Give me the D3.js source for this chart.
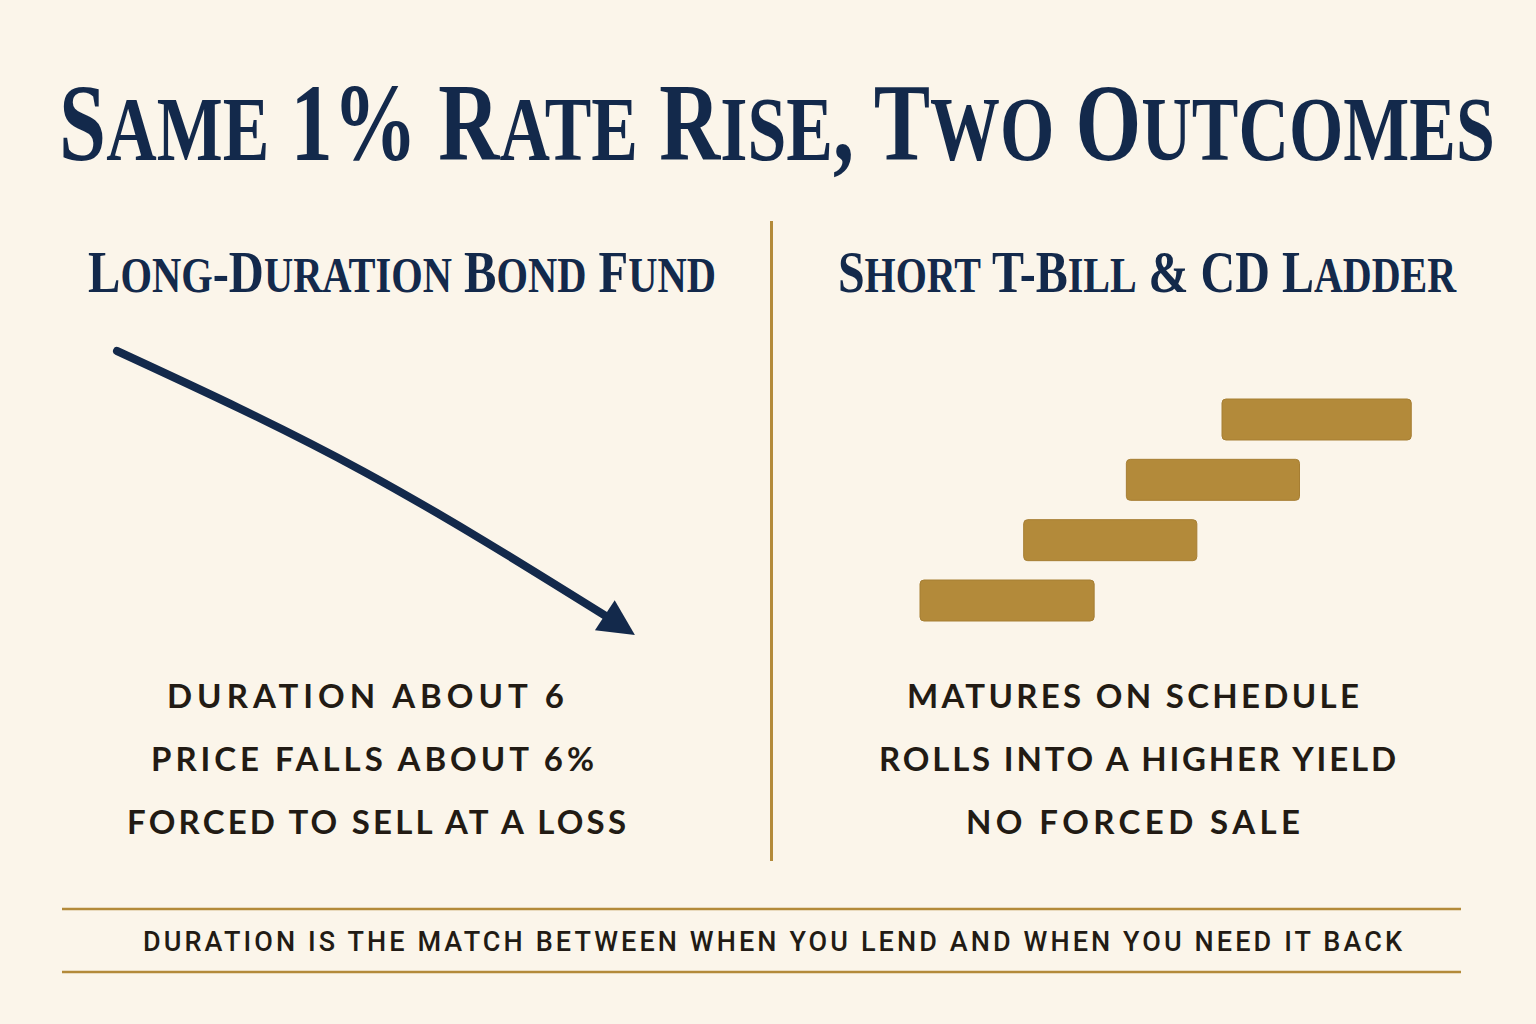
<!DOCTYPE html>
<html>
<head>
<meta charset="utf-8">
<script src="https://cdn.jsdelivr.net/npm/d3@7"></script>
<style>
  html, body { margin: 0; padding: 0; background: #FBF5EA; }
  svg { display: block; }
</style>
</head>
<body>
<svg id="chart" width="1536" height="1024"></svg>
<script>
// ---------- data ----------
const titleText = "Same 1% Rate Rise, Two Outcomes";
const panelTitles = ["Long-Duration Bond Fund", "Short T-Bill & CD Ladder"];
const leftLines = ["DURATION ABOUT 6", "PRICE FALLS ABOUT 6%", "FORCED TO SELL AT A LOSS"];
const rightLines = ["MATURES ON SCHEDULE", "ROLLS INTO A HIGHER YIELD", "NO FORCED SALE"];
const footerText = "DURATION IS THE MATCH BETWEEN WHEN YOU LEND AND WHEN YOU NEED IT BACK";
// price path of the long-duration fund (relative value, 0 = start, arbitrary time steps)
const pricePathT = [0, 0.5, 1];
const pricePathV = [0, -0.45, -1];
// CD ladder rungs: start step and length (in maturity steps)
const rungStart = [0, 1.03, 2.05, 3];
const rungLength = [1.73, 1.72, 1.72, 1.88];
const rungLevel = [0, 1, 2, 3];

// ---------- styles ----------
const navy = "#13294B";
const gold = "#B38A3A";
const ink = "#221B14";

const svg = d3.select("#chart");
svg.append("rect").attr("width", 1536).attr("height", 1024).attr("fill", "#FBF5EA");

// small caps helper: uppercase source chars full size, lowercase chars uppercase small
function smallCaps(sel, text, big, small) {
  const parts = [];
  for (const ch of text) {
    const isLower = ch !== ch.toUpperCase();
    const size = isLower ? small : big;
    const last = parts[parts.length - 1];
    if (last && last.size === size) last.t += ch.toUpperCase();
    else parts.push({ t: ch.toUpperCase(), size });
  }
  sel.selectAll("tspan").data(parts).join("tspan")
    .attr("font-size", d => d.size)
    .text(d => d.t);
}
function fitWidth(sel, cx, baseline, targetW) {
  const w = sel.node().getBBox().width;
  sel.attr("transform", `translate(${cx},${baseline}) scale(${targetW / w},1)`);
}

// ---------- title ----------
const title = svg.append("text")
  .attr("text-anchor", "middle")
  .attr("font-family", "'Liberation Serif', 'DejaVu Serif', serif")
  .attr("font-weight", 700)
  .attr("fill", navy);
smallCaps(title, titleText, 110, 91);
fitWidth(title, 777, 160, 1436);

// ---------- panel titles ----------
const panelCx = [402, 1147];
const panelW = [628, 619];
panelTitles.forEach((t, i) => {
  const pt = svg.append("text")
    .attr("text-anchor", "middle")
    .attr("font-family", "'Liberation Serif', 'DejaVu Serif', serif")
    .attr("font-weight", 700)
    .attr("fill", navy);
  smallCaps(pt, t, 60, 50);
  fitWidth(pt, panelCx[i], 292, panelW[i]);
});

// ---------- divider ----------
svg.append("line")
  .attr("x1", 771.5).attr("x2", 771.5).attr("y1", 221).attr("y2", 861)
  .attr("stroke", gold).attr("stroke-width", 3);

// ---------- left: falling price arrow ----------
const tx = d3.scaleLinear().domain([0, 1]).range([117, 609]);
const vy = d3.scaleLinear().domain([0, -1]).range([351, 618]);
const pts = pricePathT.map((t, i) => [tx(t), vy(pricePathV[i])]);
const line = d3.line().curve(d3.curveNatural);
svg.append("path")
  .attr("d", line(pts))
  .attr("fill", "none")
  .attr("stroke", navy)
  .attr("stroke-width", 8)
  .attr("stroke-linecap", "round");
// arrowhead along final direction
{
  const p1 = pts[pts.length - 2], p2 = pts[pts.length - 1];
  let dx = p2[0] - p1[0], dy = (p2[1] - p1[1]) * 1.1;
  const len = Math.hypot(dx, dy); dx /= len; dy /= len;
  const L = 36, H = 18;
  const base = [p2[0] - dx * 5, p2[1] - dy * 5];
  const tip = [base[0] + dx * L, base[1] + dy * L];
  const nx = -dy, ny = dx;
  svg.append("path")
    .attr("d", `M${tip[0]},${tip[1]} L${base[0] + nx * H},${base[1] + ny * H} L${base[0] - nx * H},${base[1] - ny * H} Z`)
    .attr("fill", navy);
}

// ---------- right: CD ladder ----------
const sx = d3.scaleLinear().domain([0, 3]).range([920, 1222]);
const ly = d3.scaleLinear().domain([0, 3]).range([580, 399]);
svg.selectAll("rect.rung").data(rungStart).join("rect")
  .attr("class", "rung")
  .attr("x", (d) => sx(d))
  .attr("y", (d, i) => ly(rungLevel[i]))
  .attr("width", (d, i) => sx(d + rungLength[i]) - sx(d))
  .attr("height", 41)
  .attr("rx", 4)
  .attr("fill", gold)
  .attr("stroke", "#A67E33")
  .attr("stroke-width", 1);

// ---------- body texts ----------
const bodyBase = [708, 771, 834];
const leftCx = [367.5, 374.5, 378.5];
const leftW = [401, 447, 503];
const rightCx = [1135, 1139.5, 1135];
const rightW = [456, 521, 338];
function bodyText(lines, cxs, ws) {
  lines.forEach((t, i) => {
    svg.append("text")
      .attr("x", cxs[i]).attr("y", bodyBase[i])
      .attr("text-anchor", "middle")
      .attr("font-family", "Lato, 'Open Sans', sans-serif")
      .attr("font-weight", 700)
      .attr("font-size", 33)
      .attr("letter-spacing", 4)
      .attr("fill", ink)
      .attr("textLength", ws[i])
      .attr("lengthAdjust", "spacing")
      .text(t);
  });
}
bodyText(leftLines, leftCx, leftW);
bodyText(rightLines, rightCx, rightW);

// ---------- footer ----------
[909, 972].forEach(y => {
  svg.append("line").attr("x1", 62).attr("x2", 1461).attr("y1", y).attr("y2", y)
    .attr("stroke", gold).attr("stroke-width", 2.5);
});
svg.append("text")
  .attr("x", 774.5).attr("y", 951)
  .attr("text-anchor", "middle")
  .attr("font-family", "Roboto, 'Open Sans', sans-serif")
  .attr("font-weight", 500)
  .attr("font-size", 27)
  .attr("letter-spacing", 4)
  .attr("fill", ink)
  .attr("textLength", 1263)
  .attr("lengthAdjust", "spacing")
  .text(footerText);
</script>
</body>
</html>
